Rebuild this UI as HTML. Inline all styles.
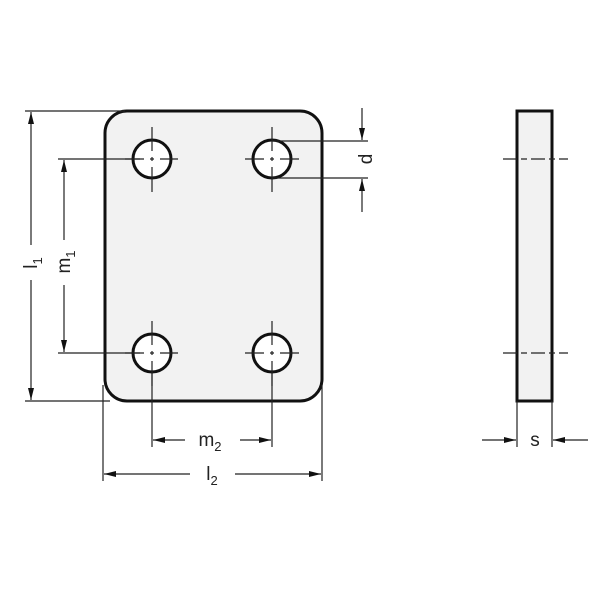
<!DOCTYPE html>
<html><head><style>body{margin:0;background:#fff}svg{display:block}</style></head><body>
<svg width="600" height="600" viewBox="0 0 600 600" xmlns="http://www.w3.org/2000/svg" font-family="Liberation Sans, sans-serif">
<defs>
<marker id="a" viewBox="0 0 12 6" refX="12" refY="3" markerWidth="12" markerHeight="6" markerUnits="userSpaceOnUse" orient="auto"><path d="M0,0L12,3L0,6z" fill="#111"/></marker>
</defs>
<rect x="105" y="111" width="217" height="290" rx="22" fill="#f2f2f2" stroke="#111" stroke-width="3"/>
<rect x="517" y="111" width="35" height="290" fill="#f2f2f2" stroke="#111" stroke-width="3"/>
<g fill="#fff" stroke="#111" stroke-width="3">
<circle cx="152" cy="159" r="19"/><circle cx="272" cy="159" r="19"/>
<circle cx="152" cy="353" r="19"/><circle cx="272" cy="353" r="19"/>
</g>
<g stroke="#222" stroke-width="1.2" fill="none">
<!-- hole centerlines: solid outer parts, dashed inner -->
<path d="M125 159H144M160 159H178M152 127V151M152 167V192M245 159H264M280 159H299M272 127V151M272 167V192"/>
<path d="M125 353H144M160 353H178M152 321V345M152 361V386M245 353H264M280 353H299M272 321V345M272 361V386"/>
<path d="M150 159H154M152 157V161M270 159H274M272 157V161M150 353H154M152 351V355M270 353H274M272 351V355"/>
<!-- extension lines -->
<path d="M25 111H125M25 401H110M58 159H140M58 353H140"/>
<path d="M272 141H368M272 178H368"/>
<path d="M152 370V447M272 370V447M103 385V481M322 385V481"/>
<path d="M517 401V447M552 401V447"/>
<path d="M503 159H568M503 353H568" stroke-dasharray="14 4 6 4"/>
<!-- dims -->
<path d="M31 245V112" marker-end="url(#a)"/><path d="M31 280V400" marker-end="url(#a)"/>
<path d="M64 240V160" marker-end="url(#a)"/><path d="M64 285V352" marker-end="url(#a)"/>
<path d="M362 108V140" marker-end="url(#a)"/><path d="M362 212V179" marker-end="url(#a)"/>
<path d="M185 440H153" marker-end="url(#a)"/><path d="M240 440H271" marker-end="url(#a)"/>
<path d="M190 474H104" marker-end="url(#a)"/><path d="M235 474H321" marker-end="url(#a)"/>
<path d="M482 440H516" marker-end="url(#a)"/><path d="M588 440H553" marker-end="url(#a)"/>
</g>
<g fill="#222" font-size="19">
<text transform="translate(37,263) rotate(-90)" text-anchor="middle">l<tspan font-size="13" dy="5">1</tspan></text>
<text transform="translate(70,262) rotate(-90)" text-anchor="middle">m<tspan font-size="13" dy="5">1</tspan></text>
<text transform="translate(359,159) rotate(-90)" text-anchor="middle" dominant-baseline="hanging">d</text>
<text x="210" y="446" text-anchor="middle">m<tspan font-size="13" dy="5">2</tspan></text>
<text x="212" y="480" text-anchor="middle">l<tspan font-size="13" dy="5">2</tspan></text>
<text x="535" y="446" text-anchor="middle">s</text>
</g>
</svg>
</body></html>
